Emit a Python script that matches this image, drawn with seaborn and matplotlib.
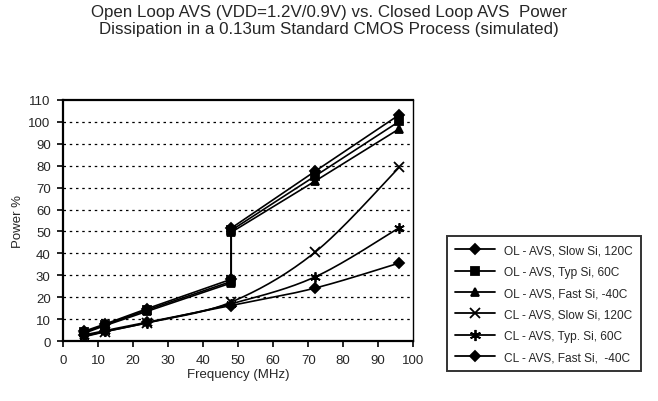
import numpy as np
import pandas as pd
import matplotlib
matplotlib.use('Agg')
import matplotlib.pyplot as plt
import seaborn as sns
from matplotlib.lines import Line2D

# frequency points (MHz); OL series switch VDD at 48 MHz -> two points there
freq_ol = [6, 12, 24, 48, 48, 72, 96]
freq_cl = [6, 12, 24, 48, 72, 96]

ol_slow = [4.5, 7.8, 14.8, 28.2, 51.5, 77.5, 103.2]
ol_typ = [4.0, 7.5, 14.2, 27.2, 50.5, 75.3, 100.2]
ol_fast = [3.6, 7.1, 13.6, 26.5, 49.6, 73.0, 96.8]
cl_slow = [2.0, 4.3, 8.4, 17.8, 40.6, 79.3]
cl_typ = [2.3, 4.4, 8.3, 17.0, 29.3, 51.7]
cl_fast = [2.8, 4.8, 8.6, 16.2, 24.2, 35.6]

labels = ['OL - AVS, Slow Si, 120C', 'OL - AVS, Typ Si, 60C', 'OL - AVS, Fast Si, -40C',
          'CL - AVS, Slow Si, 120C', 'CL - AVS, Typ. Si, 60C', 'CL - AVS, Fast Si,  -40C']
markers = ['D', 's', '^', 'x', (6, 2, 0), 'D']
msizes = [5, 5.5, 5.5, 6.5, 7.5, 5]

title = ('Open Loop AVS (VDD=1.2V/0.9V) vs. Closed Loop AVS  Power\n'
         'Dissipation in a 0.13um Standard CMOS Process (simulated)')


def smooth(x, y, n=30):
    # Excel-style bezier smoothing
    x = np.asarray(x, float)
    y = np.asarray(y, float)
    px = np.concatenate([[x[0]], x, [x[-1]]])
    py = np.concatenate([[y[0]], y, [y[-1]]])
    xs, ys = [], []
    t = np.linspace(0, 1, n)
    for i in range(1, len(px) - 2):
        p0 = np.array([px[i], py[i]])
        p3 = np.array([px[i + 1], py[i + 1]])
        c1 = p0 + (np.array([px[i + 1], py[i + 1]]) - np.array([px[i - 1], py[i - 1]])) / 6
        c2 = p3 - (np.array([px[i + 2], py[i + 2]]) - np.array([px[i], py[i]])) / 6
        b = ((1 - t) ** 3)[:, None] * p0 + (3 * (1 - t) ** 2 * t)[:, None] * c1 \
            + (3 * (1 - t) * t ** 2)[:, None] * c2 + (t ** 3)[:, None] * p3
        xs.extend(b[:, 0])
        ys.extend(b[:, 1])
    return xs, ys


sns.set_theme(style='white')
plt.rcParams['font.family'] = ['Liberation Sans', 'DejaVu Sans']

fig = plt.figure(figsize=(6.58, 4.02), dpi=100)
ax = fig.add_axes([0.096, 0.149, 0.532, 0.600])

series = [(freq_ol, ol_slow, False), (freq_ol, ol_typ, False), (freq_ol, ol_fast, False),
          (freq_cl, cl_slow, True), (freq_cl, cl_typ, True), (freq_cl, cl_fast, True)]

handles = []
for (fx, fy, sm), lab, mk, ms in zip(series, labels, markers, msizes):
    if sm:
        lx, ly = smooth(fx, fy)
    else:
        lx, ly = fx, fy
    df = pd.DataFrame({'x': lx, 'y': ly})
    sns.lineplot(data=df, x='x', y='y', estimator=None, sort=False, color='black',
                 linewidth=1.2, ax=ax)
    ax.plot(fx, fy, linestyle='none', marker=mk, markersize=ms, color='black',
            markeredgewidth=1.3)
    handles.append(Line2D([], [], color='black', linewidth=1.3, marker=mk,
                          markersize=ms + 0.5, markeredgewidth=1.3, label=lab))

ax.set_xlim(0, 100)
ax.set_ylim(0, 110)
ax.set_xticks(range(0, 101, 10))
ax.set_yticks(range(0, 111, 10))
for v in range(10, 101, 10):
    ax.axhline(v, color='black', linestyle=(0, (2, 3)), linewidth=0.9, zorder=0)

for s in ax.spines.values():
    s.set_color('black')
    s.set_linewidth(1.0)
ax.spines['left'].set_linewidth(1.6)
ax.spines['bottom'].set_linewidth(1.6)
ax.spines['top'].set_linewidth(1.6)
ax.tick_params(axis='both', direction='out', length=4, width=1.2, color='black',
               labelsize=9.5, left=True, bottom=True, pad=5)
ax.set_xlabel('Frequency (MHz)', fontsize=9.5, labelpad=2)
ax.set_ylabel('Power %', fontsize=9.5, labelpad=3)

fig.text(0.5, 0.988, title, ha='center', va='top', fontsize=12.2, linespacing=1.15)

leg = fig.legend(handles=handles, loc='upper left', bbox_to_anchor=(0.679, 0.41),
                 frameon=True, fontsize=8.6, handlelength=3.3, labelspacing=0.78,
                 borderpad=0.7, borderaxespad=0, fancybox=False, handletextpad=0.8)
leg.get_frame().set_edgecolor('black')
leg.get_frame().set_linewidth(1.4)

fig.savefig('out.png', dpi=100)
